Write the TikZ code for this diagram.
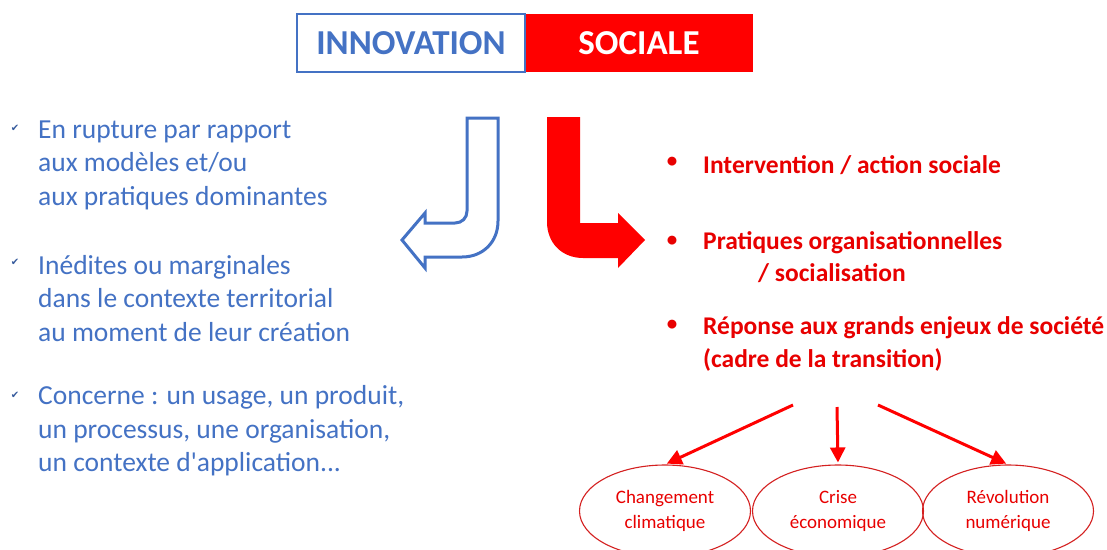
\documentclass[tikz,border=0pt]{standalone}
\usepackage{fontspec}
\setmainfont{Carlito}
\newfontfamily\carl{Carlito}
\newfontfamily\djv{DejaVu Sans}
\usetikzlibrary{shapes.geometric,arrows.meta}
\definecolor{iblue}{HTML}{4472C4}
\definecolor{ired}{HTML}{FF0000}
\definecolor{tred}{HTML}{E80000}
\definecolor{ered}{HTML}{D42020}
\tikzset{
  headbox/.style={minimum width=228pt,minimum height=58pt,inner sep=0pt,font=\carl\fontsize{35}{35}\selectfont\bfseries},
  lefttext/.style={anchor=west,align=left,inner sep=0pt,text=iblue,font=\carl\fontsize{27.5}{33.5}\selectfont},
  chk/.style={inner sep=0pt,text=iblue!80!black,font=\djv\fontsize{10}{10}\selectfont},
  righttext/.style={anchor=west,align=left,inner sep=0pt,text=tred,font=\carl\fontsize{25.5}{33}\selectfont\bfseries},
  bul/.style={inner sep=0pt,text=tred,font=\carl\fontsize{21}{21}\selectfont\bfseries},
  oval/.style={ellipse,draw=ered,line width=1.1pt,minimum width=171pt,minimum height=92pt,inner sep=0pt,align=center,text=tred,font=\carl\fontsize{19}{25}\selectfont},
  redarrow/.style={draw=ired,line width=3pt,-{Triangle[length=15pt,width=15pt]},shorten >=2pt}
}
\begin{document}
\begin{tikzpicture}[x=1pt,y=-1pt]
\clip (0,0) rectangle (1107,549);
\fill[white] (0,0) rectangle (1107,549);
% header
\node[headbox,fill=ired,text=white] (soc) at (639,43) {SOCIALE};
\node[headbox,draw=iblue,line width=2.5pt,text=iblue,fill=white] (inn) at (411,43) {INNOVATION};
% blue hollow arrow
\draw[iblue,line width=3pt,line join=miter] (467,118) -- (498,118) -- (498,221)
  .. controls (498,242) and (483,257) .. (462,257) -- (425,257) -- (425,268) -- (402,240)
  -- (425,213) -- (425,223) -- (455,223) .. controls (462,223) and (467,218) .. (467,211) -- cycle;
% red filled arrow
\fill[ired] (547,117) -- (580,117) -- (580,223) -- (618,223) -- (618,213) -- (645,240)
  -- (618,268) -- (618,258) -- (583,258) .. controls (562,258) and (547,243) .. (547,222) -- cycle;
% left items
\node[chk] (c1) at (15,128) {✔};
\node[lefttext] (l1) at (38,165) {En rupture par rapport\\aux modèles et/ou\\aux pratiques dominantes};
\node[chk] (c2) at (15,262) {✔};
\node[lefttext] (l2) at (38,298.5) {Inédites ou marginales\\dans le contexte territorial\\au moment de leur création};
\node[chk] (c3) at (15,395) {✔};
\node[lefttext] (l3) at (38,431) {Concerne : un usage, un produit,\\un processus, une organisation,\\un contexte d'application...};
% right items
\node[bul] (b1) at (672,162) {•};
\node[righttext] (r1) at (703,165) {Intervention / action sociale};
\node[bul] (b2) at (672,241) {•};
\node[righttext] (r2) at (703,243) {Pratiques organisationnelles};
\node[righttext] (r2b) at (758,273) {/ socialisation};
\node[bul] (b3) at (672,325) {•};
\node[righttext] (r3) at (703,343.5) {Réponse aux grands enjeux de société\\(cadre de la transition)};
% ovals
\node[oval] (e1) at (665,511) {Changement\\climatique};
\node[oval] (e2) at (838,511) {Crise\\économique};
\node[oval] (e3) at (1008,511) {Révolution\\numérique};
\coordinate (s1) at (793,405);
\coordinate (s2) at (837,407);
\coordinate (s3) at (878,405);
\draw[redarrow] (s1) -- (e1.north);
\draw[redarrow] (s2) -- (e2.north);
\draw[redarrow] (s3) -- (e3.north);
\end{tikzpicture}
\end{document}
